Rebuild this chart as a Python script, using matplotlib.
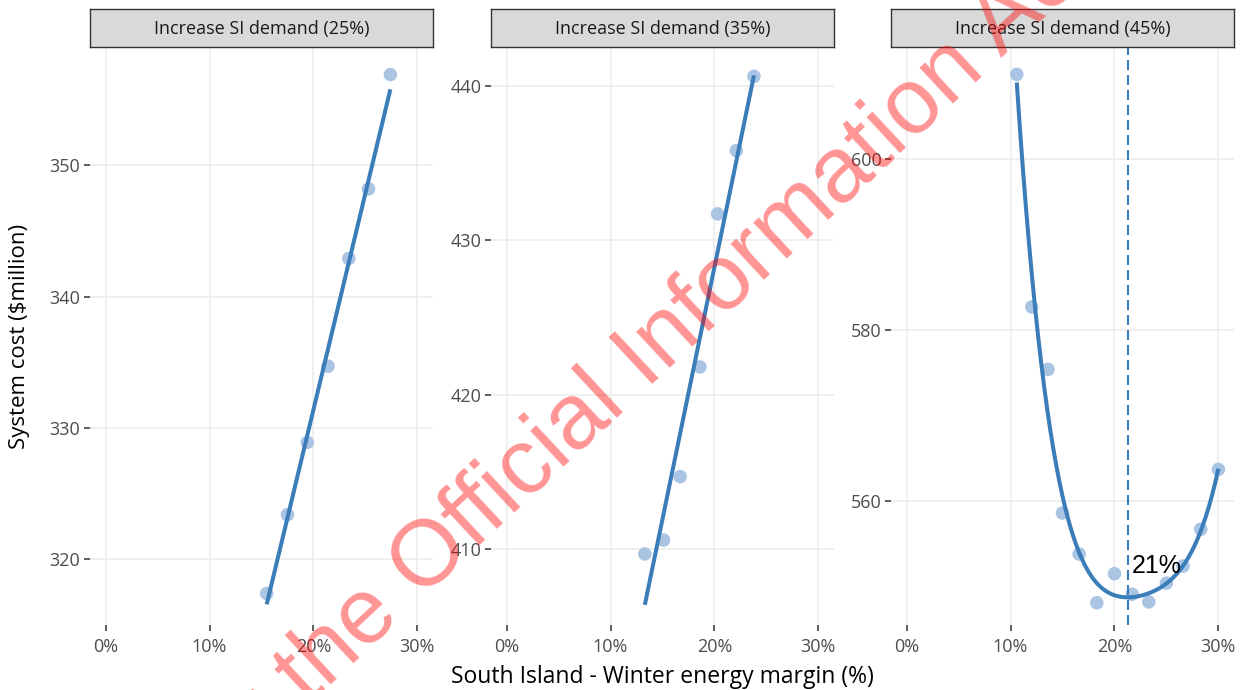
import numpy as np
import matplotlib
matplotlib.use("Agg")
import matplotlib.pyplot as plt
from matplotlib.ticker import FuncFormatter

# data: x = SI winter energy margin (%), y = system cost ($m)
margin_25 = [15.5, 17.5, 19.4, 21.4, 23.4, 25.3, 27.4]
cost_25 = [317.4, 323.4, 328.9, 334.7, 342.9, 348.2, 356.9]

margin_35 = [13.3, 15.1, 16.7, 18.6, 20.3, 22.1, 23.8]
cost_35 = [409.7, 410.6, 414.7, 421.8, 431.7, 435.8, 440.6]

margin_45 = [10.6, 12.05, 13.6, 15.0, 16.6, 18.3, 20.0, 21.7, 23.3, 25.0, 26.6, 28.3, 30.0]
cost_45 = [609.9, 582.7, 575.4, 558.6, 553.8, 548.1, 551.5, 549.1, 548.2, 550.4, 552.4, 556.7, 563.7]

panel_titles = ["Increase SI demand (25%)", "Increase SI demand (35%)", "Increase SI demand (45%)"]
y_ticks = [[320, 330, 340, 350], [410, 420, 430, 440], [560, 580, 600]]
y_limits = [(315.0, 359.0), (405.1, 442.5), (545.5, 613.1)]
x_ticks = [0, 10, 20, 30]
fit_degree = [1, 1, 4]
opt_margin = 21.3
opt_label = "21%"
label_y = 551.6
watermark = "Released under the Official Information Act"

point_col = "#AAC4E3"
line_col = "#3A7DB9"
font = ["Open Sans", "DejaVu Sans"]

plt.rcParams["font.family"] = font

fig = plt.figure(figsize=(12.49, 6.90), dpi=100)

lefts = [90, 491, 891]
W, H = 1249, 690
panel_w = 343
top, bottom = 47, 625
strip_top = 9

series = [(margin_25, cost_25), (margin_35, cost_35), (margin_45, cost_45)]

for i, (mx, cy) in enumerate(series):
    ax = fig.add_axes([lefts[i] / W, (H - bottom) / H, panel_w / W, (bottom - top) / H])
    ax.set_xlim(-1.5, 31.5)
    ax.set_ylim(*y_limits[i])
    ax.set_xticks(x_ticks)
    ax.set_yticks(y_ticks[i])
    ax.xaxis.set_major_formatter(FuncFormatter(lambda v, p: f"{v:.0f}%"))
    for s in ax.spines.values():
        s.set_visible(False)
    ax.grid(True, color="#EBEBEB", linewidth=1.1)
    ax.set_axisbelow(True)
    ax.tick_params(axis="both", colors="#333333", length=4, width=1.1,
                   labelsize=13, labelcolor="#4D4D4D")
    ax.tick_params(axis="y", pad=3)
    ax.tick_params(axis="x", pad=5)

    ax.scatter(mx, cy, s=95, color=point_col, edgecolors="none", zorder=2)
    xs = np.linspace(min(mx), max(mx), 200)
    ys = np.polyval(np.polyfit(mx, cy, fit_degree[i]), xs)
    ax.plot(xs, ys, color=line_col, linewidth=2.9, solid_capstyle="butt", zorder=3)

    if i == 2:
        ax.axvline(opt_margin, color=line_col, linewidth=1.5, linestyle=(0, (4.8, 2.4)), zorder=3)
        ax.text(opt_margin + 0.4, label_y, opt_label, fontsize=18,
                family=["Liberation Sans", "DejaVu Sans"], color="black",
                ha="left", va="baseline", zorder=4)

    sax = fig.add_axes([lefts[i] / W, (H - top) / H, panel_w / W, (top - strip_top) / H])
    sax.set_facecolor("#D9D9D9")
    sax.set_xticks([])
    sax.set_yticks([])
    for s in sax.spines.values():
        s.set_color("#333333")
        s.set_linewidth(1.0)
    sax.text(0.5, 0.47, panel_titles[i], transform=sax.transAxes, ha="center",
             va="center", fontsize=13, color="#1A1A1A")

fig.text((lefts[0] + lefts[2] + panel_w) / 2 / W, (H - 677) / H,
         "South Island - Winter energy margin (%)", ha="center", va="center",
         fontsize=16.5, color="black")
fig.text(20 / W, (H - (top + bottom) / 2) / H, "System cost (\\$million)",
         rotation=90, ha="center", va="center", fontsize=16, color="black")

# red watermark across the figure
ang = 43
fig.text(-192 / W, (H - 1171) / H, watermark, rotation=ang, rotation_mode="anchor",
         ha="left", va="baseline", fontsize=67, color="red", alpha=0.42,
         family=["Liberation Sans", "DejaVu Sans"], zorder=10)

fig.savefig("out.png", dpi=100)
